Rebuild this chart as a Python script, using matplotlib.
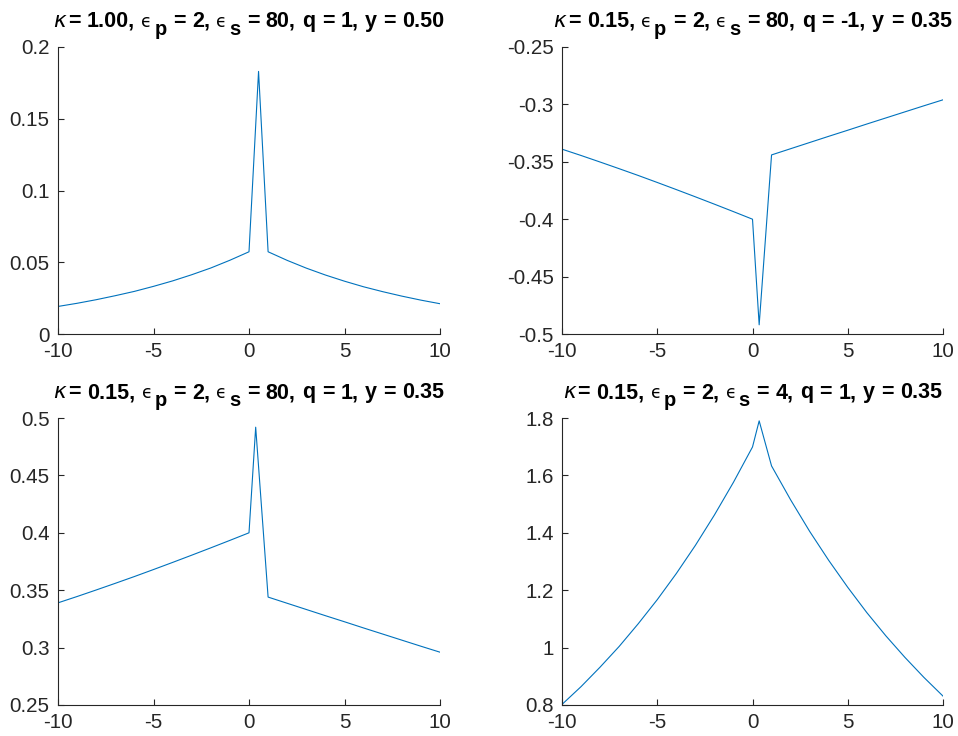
import matplotlib
matplotlib.use("Agg")
import matplotlib.pyplot as plt
from matplotlib.ticker import FuncFormatter
from matplotlib.transforms import IdentityTransform

plt.rcParams['font.family'] = ['Liberation Sans', 'DejaVu Sans']
plt.rcParams['mathtext.fontset'] = 'dejavusans'

# sample positions: left branch, source point y, right branch
x_left = [-10, -9, -8, -7, -6, -5, -4, -3, -2, -1, 0]
x_right = [1, 2, 3, 4, 5, 6, 7, 8, 9, 10]

# kappa=1.00, eps_s=80, q=1, y=0.50
y0_a = 0.50
left_a = [0.0192, 0.0214, 0.0239, 0.0267, 0.0297, 0.0332, 0.0370, 0.0413, 0.0460, 0.0514, 0.0573]
peak_a = 0.183
right_a = [0.0573, 0.0513, 0.0459, 0.0411, 0.0368, 0.0329, 0.0295, 0.0264, 0.0236, 0.0211]

# kappa=0.15, eps_s=80, q=-1, y=0.35
y0_b = 0.35
left_b = [-0.339, -0.3445, -0.3502, -0.3560, -0.3619, -0.3680, -0.3742, -0.3805, -0.3869, -0.3934, -0.400]
peak_b = -0.492
right_b = [-0.344, -0.3386, -0.3332, -0.3278, -0.3225, -0.3171, -0.3118, -0.3065, -0.3012, -0.296]

# kappa=0.15, eps_s=80, q=1, y=0.35
y0_c = 0.35
left_c = [0.339, 0.3445, 0.3502, 0.3560, 0.3619, 0.3680, 0.3742, 0.3805, 0.3869, 0.3934, 0.400]
peak_c = 0.492
right_c = [0.344, 0.3386, 0.3332, 0.3278, 0.3225, 0.3171, 0.3118, 0.3065, 0.3012, 0.296]

# kappa=0.15, eps_s=4, q=1, y=0.35
y0_d = 0.35
left_d = [0.802, 0.864, 0.932, 1.004, 1.083, 1.167, 1.258, 1.356, 1.462, 1.576, 1.699]
peak_d = 1.79
right_d = [1.633, 1.515, 1.405, 1.304, 1.210, 1.122, 1.041, 0.966, 0.896, 0.831]

# title values: kappa, eps_p, eps_s, q, y
params = [
    ('1.00', '2', '80', '1', '0.50'),
    ('0.15', '2', '80', '-1', '0.35'),
    ('0.15', '2', '80', '1', '0.35'),
    ('0.15', '2', '4', '1', '0.35'),
]
ylims = [(0, 0.2), (-0.5, -0.25), (0.25, 0.5), (0.8, 1.8)]
ysteps = [0.05, 0.05, 0.05, 0.2]
curves = [
    (y0_a, left_a, peak_a, right_a),
    (y0_b, left_b, peak_b, right_b),
    (y0_c, left_c, peak_c, right_c),
    (y0_d, left_d, peak_d, right_d),
]

W, H = 958, 736
boxes = [
    (58, 47, 440, 334),
    (562, 47, 943, 334),
    (58, 418, 440, 705),
    (562, 418, 943, 705),
]

fig = plt.figure(figsize=(W / 100, H / 100), dpi=100)
fig.patch.set_facecolor('white')
renderer = fig.canvas.get_renderer()
axcol = '#262626'
FS = 15.5      # title
TS = 14.8      # tick labels


def title_tokens(kap, ep, es, q, yv):
    # (text, kind, space before); kind: k = kappa, e = epsilon, b = bold, s = subscript
    return [(r'$\kappa$', 'k', 0), ('=', 'b', 0), (kap + ',', 'b', 1),
            ('\u03f5', 'e', 1), ('p', 's', 0), ('=', 'b', 1), (ep + ',', 'b', 1),
            ('\u03f5', 'e', 1), ('s', 's', 0), ('=', 'b', 1), (es + ',', 'b', 1),
            ('q', 'b', 1), ('=', 'b', 1), (q + ',', 'b', 1),
            ('y', 'b', 1), ('=', 'b', 1), (yv, 'b', 1)]


def draw_title(ax, tokens):
    bb = ax.get_position()
    xc = (bb.x0 + bb.x1) / 2 * W
    base = bb.y1 * H + 20
    space = 0.3 * FS * 100 / 72
    items = []
    x = 0
    for s, kind, gap in tokens:
        kw = dict(transform=IdentityTransform(), ha='left', va='baseline')
        if kind == 'k':
            t = fig.text(0, 0, s, fontsize=FS, **kw)
        elif kind == 'e':
            t = fig.text(0, 0, s, fontsize=FS - 3, family='DejaVu Sans', **kw)
        elif kind == 's':
            t = fig.text(0, 0, s, fontsize=FS - 1, fontweight='bold', **kw)
        else:
            t = fig.text(0, 0, s, fontsize=FS, fontweight='bold', **kw)
        x += gap * space + (2 if kind == 's' else 0)
        items.append((t, x, -8 if kind == 's' else 0))
        x += t.get_window_extent(renderer).width
    x_start = xc - x / 2
    for t, dx, dy in items:
        t.set_position((x_start + dx, base + dy))


for k in range(4):
    x0, y0p, x1, y1p = boxes[k]
    ax = fig.add_axes([x0 / W, 1 - y1p / H, (x1 - x0) / W, (y1p - y0p) / H])
    ysrc, left, peak, right = curves[k]
    xs = x_left + [ysrc] + x_right
    ys = left + [peak] + right
    ax.plot(xs, ys, color='#0072BD', lw=0.8)
    ax.set_xlim(-10, 10)
    lo, hi = ylims[k]
    ax.set_ylim(lo, hi)
    n = int(round((hi - lo) / ysteps[k]))
    ax.set_yticks([lo + i * ysteps[k] for i in range(n + 1)])
    ax.set_xticks([-10, -5, 0, 5, 10])
    ax.yaxis.set_major_formatter(FuncFormatter(lambda v, p: '%g' % round(v, 4)))
    ax.xaxis.set_major_formatter(FuncFormatter(lambda v, p: '%g' % v))
    for s in ['top', 'right']:
        ax.spines[s].set_visible(False)
    for s in ['left', 'bottom']:
        ax.spines[s].set_color(axcol)
        ax.spines[s].set_linewidth(0.8)
    ax.tick_params(direction='in', length=4, width=0.8, color=axcol,
                   labelcolor=axcol, labelsize=TS)
    ax.tick_params(axis='y', pad=6)
    ax.tick_params(axis='x', pad=5.5)
    draw_title(ax, title_tokens(*params[k]))

fig.savefig('out.png', dpi=100)
